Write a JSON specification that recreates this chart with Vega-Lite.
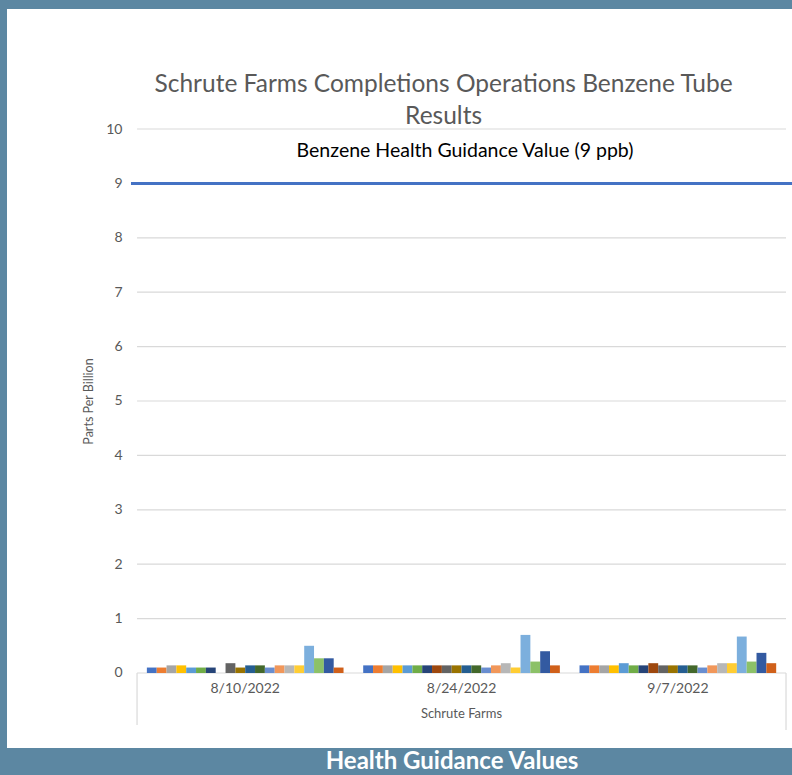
{
  "$schema": "https://vega.github.io/schema/vega-lite/v6.json",
  "width": 785,
  "height": 739,
  "autosize": {"type": "none"},
  "padding": {"left": 7, "top": 9, "right": 0, "bottom": 27},
  "background": "#5C87A2",
  "config": {"view": {"fill": "white", "stroke": null}, "font": "Lato"},
  "layer": [
    {
      "data": {"values": [{"ppb": 0}, {"ppb": 1}, {"ppb": 2}, {"ppb": 3}, {"ppb": 4}, {"ppb": 5}, {"ppb": 6}, {"ppb": 7}, {"ppb": 8}, {"ppb": 10}]},
      "mark": {"type": "rule", "color": "#D9D9D9", "strokeWidth": 1.2},
      "encoding": {
        "y": {"field": "ppb", "type": "quantitative"},
        "x": {"datum": "8/10/2022", "type": "nominal", "bandPosition": 0},
        "x2": {"datum": "9/7/2022", "bandPosition": 1}
      }
    },
    {
      "data": {"values": [{}]},
      "mark": {"type": "rule", "color": "#D9D9D9", "strokeWidth": 1.2},
      "encoding": {
        "x": {"datum": "8/10/2022", "type": "nominal", "bandPosition": 0},
        "y": {"datum": 0, "type": "quantitative"},
        "y2": {"datum": -0.956}
      }
    },
    {
      "data": {"values": [{}]},
      "mark": {"type": "rule", "color": "#D9D9D9", "strokeWidth": 1.2},
      "encoding": {
        "x": {"datum": "9/7/2022", "type": "nominal", "bandPosition": 1},
        "y": {"datum": 0, "type": "quantitative"},
        "y2": {"datum": -1.05}
      }
    },
    {
      "data": {
        "values": [
          {"date": "8/10/2022", "tube": "Tube 1", "ppb": 0.10},
          {"date": "8/10/2022", "tube": "Tube 2", "ppb": 0.10},
          {"date": "8/10/2022", "tube": "Tube 3", "ppb": 0.14},
          {"date": "8/10/2022", "tube": "Tube 4", "ppb": 0.14},
          {"date": "8/10/2022", "tube": "Tube 5", "ppb": 0.10},
          {"date": "8/10/2022", "tube": "Tube 6", "ppb": 0.10},
          {"date": "8/10/2022", "tube": "Tube 7", "ppb": 0.10},
          {"date": "8/10/2022", "tube": "Tube 9", "ppb": 0.18},
          {"date": "8/10/2022", "tube": "Tube 10", "ppb": 0.10},
          {"date": "8/10/2022", "tube": "Tube 11", "ppb": 0.14},
          {"date": "8/10/2022", "tube": "Tube 12", "ppb": 0.14},
          {"date": "8/10/2022", "tube": "Tube 13", "ppb": 0.10},
          {"date": "8/10/2022", "tube": "Tube 14", "ppb": 0.14},
          {"date": "8/10/2022", "tube": "Tube 15", "ppb": 0.14},
          {"date": "8/10/2022", "tube": "Tube 16", "ppb": 0.14},
          {"date": "8/10/2022", "tube": "Tube 17", "ppb": 0.50},
          {"date": "8/10/2022", "tube": "Tube 18", "ppb": 0.27},
          {"date": "8/10/2022", "tube": "Tube 19", "ppb": 0.27},
          {"date": "8/10/2022", "tube": "Tube 20", "ppb": 0.10},
          {"date": "8/24/2022", "tube": "Tube 1", "ppb": 0.14},
          {"date": "8/24/2022", "tube": "Tube 2", "ppb": 0.14},
          {"date": "8/24/2022", "tube": "Tube 3", "ppb": 0.14},
          {"date": "8/24/2022", "tube": "Tube 4", "ppb": 0.14},
          {"date": "8/24/2022", "tube": "Tube 5", "ppb": 0.14},
          {"date": "8/24/2022", "tube": "Tube 6", "ppb": 0.14},
          {"date": "8/24/2022", "tube": "Tube 7", "ppb": 0.14},
          {"date": "8/24/2022", "tube": "Tube 8", "ppb": 0.14},
          {"date": "8/24/2022", "tube": "Tube 9", "ppb": 0.14},
          {"date": "8/24/2022", "tube": "Tube 10", "ppb": 0.14},
          {"date": "8/24/2022", "tube": "Tube 11", "ppb": 0.14},
          {"date": "8/24/2022", "tube": "Tube 12", "ppb": 0.14},
          {"date": "8/24/2022", "tube": "Tube 13", "ppb": 0.10},
          {"date": "8/24/2022", "tube": "Tube 14", "ppb": 0.14},
          {"date": "8/24/2022", "tube": "Tube 15", "ppb": 0.18},
          {"date": "8/24/2022", "tube": "Tube 16", "ppb": 0.10},
          {"date": "8/24/2022", "tube": "Tube 17", "ppb": 0.70},
          {"date": "8/24/2022", "tube": "Tube 18", "ppb": 0.21},
          {"date": "8/24/2022", "tube": "Tube 19", "ppb": 0.40},
          {"date": "8/24/2022", "tube": "Tube 20", "ppb": 0.14},
          {"date": "9/7/2022", "tube": "Tube 1", "ppb": 0.14},
          {"date": "9/7/2022", "tube": "Tube 2", "ppb": 0.14},
          {"date": "9/7/2022", "tube": "Tube 3", "ppb": 0.14},
          {"date": "9/7/2022", "tube": "Tube 4", "ppb": 0.14},
          {"date": "9/7/2022", "tube": "Tube 5", "ppb": 0.18},
          {"date": "9/7/2022", "tube": "Tube 6", "ppb": 0.14},
          {"date": "9/7/2022", "tube": "Tube 7", "ppb": 0.14},
          {"date": "9/7/2022", "tube": "Tube 8", "ppb": 0.18},
          {"date": "9/7/2022", "tube": "Tube 9", "ppb": 0.14},
          {"date": "9/7/2022", "tube": "Tube 10", "ppb": 0.14},
          {"date": "9/7/2022", "tube": "Tube 11", "ppb": 0.14},
          {"date": "9/7/2022", "tube": "Tube 12", "ppb": 0.14},
          {"date": "9/7/2022", "tube": "Tube 13", "ppb": 0.10},
          {"date": "9/7/2022", "tube": "Tube 14", "ppb": 0.14},
          {"date": "9/7/2022", "tube": "Tube 15", "ppb": 0.18},
          {"date": "9/7/2022", "tube": "Tube 16", "ppb": 0.18},
          {"date": "9/7/2022", "tube": "Tube 17", "ppb": 0.67},
          {"date": "9/7/2022", "tube": "Tube 18", "ppb": 0.21},
          {"date": "9/7/2022", "tube": "Tube 19", "ppb": 0.37},
          {"date": "9/7/2022", "tube": "Tube 20", "ppb": 0.18}
        ]
      },
      "mark": {"type": "bar"},
      "encoding": {
        "x": {
          "field": "date",
          "type": "nominal",
          "sort": ["8/10/2022", "8/24/2022", "9/7/2022"],
          "scale": {"domain": ["8/10/2022", "8/24/2022", "9/7/2022"], "paddingInner": 0, "paddingOuter": 0.3144, "align": 0.956},
          "axis": {
            "orient": "bottom",
            "offset": -75,
            "domain": false,
            "ticks": false,
            "tickSize": 0,
            "labelAngle": 0,
            "labelAlign": "center",
            "labelPadding": 15,
            "labelFontSize": 14,
            "labelColor": "#595959",
            "title": "Schrute Farms",
            "titleFontSize": 13,
            "titleFontWeight": "normal",
            "titleColor": "#595959",
            "titlePadding": 12,
            "titleX": 454
          }
        },
        "xOffset": {
          "field": "tube",
          "type": "nominal",
          "scale": {
            "domain": ["Tube 1", "Tube 2", "Tube 3", "Tube 4", "Tube 5", "Tube 6", "Tube 7", "Tube 8", "Tube 9", "Tube 10", "Tube 11", "Tube 12", "Tube 13", "Tube 14", "Tube 15", "Tube 16", "Tube 17", "Tube 18", "Tube 19", "Tube 20"],
            "paddingInner": 0,
            "paddingOuter": 1.035
          }
        },
        "y": {
          "field": "ppb",
          "type": "quantitative",
          "scale": {"domain": [-1.379, 12.206], "nice": false, "zero": false},
          "axis": {
            "orient": "left",
            "offset": -130,
            "values": [0, 1, 2, 3, 4, 5, 6, 7, 8, 9, 10],
            "grid": false,
            "domain": false,
            "ticks": false,
            "tickSize": 0,
            "labelPadding": 15,
            "labelFontSize": 14,
            "labelColor": "#595959",
            "title": "Parts Per Billion",
            "titleFontSize": 12.5,
            "titleFontWeight": "normal",
            "titleColor": "#595959",
            "titlePadding": 10,
            "titleY": 392
          }
        },
        "color": {
          "field": "tube",
          "type": "nominal",
          "legend": null,
          "scale": {
            "domain": ["Tube 1", "Tube 2", "Tube 3", "Tube 4", "Tube 5", "Tube 6", "Tube 7", "Tube 8", "Tube 9", "Tube 10", "Tube 11", "Tube 12", "Tube 13", "Tube 14", "Tube 15", "Tube 16", "Tube 17", "Tube 18", "Tube 19", "Tube 20"],
            "range": ["#4472C4", "#ED7D31", "#A5A5A5", "#FFC000", "#5B9BD5", "#70AD47", "#264478", "#9E480E", "#636363", "#997300", "#255E91", "#43682B", "#698ED0", "#F1975A", "#B7B7B7", "#FFCD33", "#7CAFDD", "#8CC168", "#335AA1", "#D0601A"]
          }
        }
      }
    },
    {
      "data": {"values": [{}]},
      "mark": {"type": "rule", "color": "#4472C4", "strokeWidth": 3},
      "encoding": {
        "x": {"datum": "8/10/2022", "type": "nominal", "bandPosition": -0.028},
        "x2": {"datum": "9/7/2022", "bandPosition": 1.028},
        "y": {"datum": 9, "type": "quantitative"}
      }
    },
    {
      "data": {"values": [{}]},
      "mark": {"type": "text", "text": ["Schrute Farms Completions Operations Benzene Tube", "Results"], "fontSize": 24.5, "lineHeight": 32, "color": "#595959", "align": "center", "baseline": "middle"},
      "encoding": {
        "x": {"datum": "8/24/2022", "type": "nominal", "bandPosition": 0.417},
        "y": {"datum": 10.8, "type": "quantitative"}
      }
    },
    {
      "data": {"values": [{}]},
      "mark": {"type": "text", "text": "Benzene Health Guidance Value (9 ppb)", "fontSize": 19.5, "color": "#000000", "align": "center", "baseline": "middle"},
      "encoding": {
        "x": {"datum": "8/24/2022", "type": "nominal", "bandPosition": 0.516},
        "y": {"datum": 9.6, "type": "quantitative"}
      }
    },
    {
      "data": {"values": [{}]},
      "mark": {"type": "text", "text": "Health Guidance Values", "fontSize": 24, "fontWeight": "bold", "color": "#FFFFFF", "align": "center", "baseline": "middle"},
      "encoding": {
        "x": {"datum": "8/24/2022", "type": "nominal", "bandPosition": 0.456},
        "y": {"datum": -1.636, "type": "quantitative"}
      }
    }
  ]
}
